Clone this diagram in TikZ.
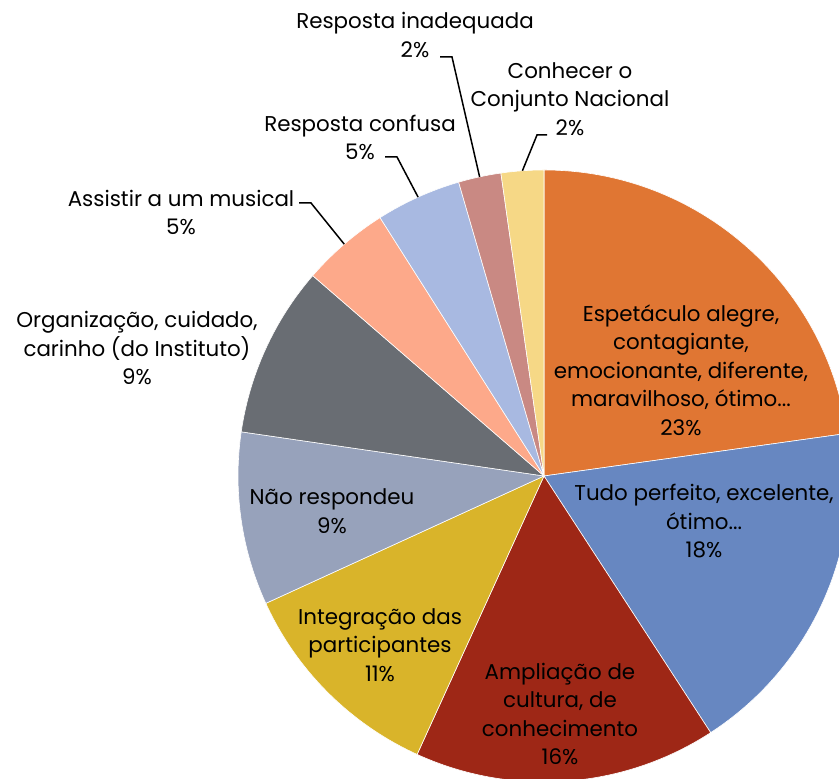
\documentclass[tikz,border=0pt]{standalone}
\usepackage{fontspec}
\setmainfont{Poppins}
\usetikzlibrary{calc}

\definecolor{cEsp}{HTML}{E07633}
\definecolor{cTudo}{HTML}{6787C1}
\definecolor{cAmpl}{HTML}{9E2716}
\definecolor{cInteg}{HTML}{D9B42A}
\definecolor{cNao}{HTML}{97A2BB}
\definecolor{cOrg}{HTML}{696D73}
\definecolor{cAssist}{HTML}{FDA98A}
\definecolor{cConf}{HTML}{A8B9E1}
\definecolor{cInad}{HTML}{C98983}
\definecolor{cConh}{HTML}{F6D886}

\tikzset{
  fatia/.style={draw=white,line width=0.3pt},
  rotulo/.style={align=center,inner sep=0pt,text=black,font=\fontsize{10.7}{14.25}\selectfont},
  guia/.style={draw=black,line width=0.75pt},
}

\begin{document}
\begin{tikzpicture}[x=0.5pt,y=0.5pt]
\useasboundingbox (0,0) rectangle (839,779);
\clip (0,0) rectangle (839,779);
\pgfmathsetmacro{\raio}{306}
\coordinate (C) at (544,303);
%
\foreach \ini/\fim/\cor in {90/8/cEsp,8/-57/cTudo,-57/-114.5/cAmpl,-114.5/-155.4/cInteg,-155.4/-188.3/cNao,-188.3/-220.9/cOrg,-220.9/-237.6/cAssist,-237.6/-253.8/cConf,-253.8/-261.9/cInad,-261.9/-270/cConh}
  \path[fatia,fill=\cor](C)--++(\ini:\raio)arc(\ini:\fim:\raio)--cycle;
%
\node[rotulo](lEsp) at (681,409){Espetáculo alegre,\\contagiante,\\emocionante, diferente,\\maravilhoso, ótimo...\\23\%};
\node[rotulo](lTudo) at (704,257.5){Tudo perfeito, excelente,\\ótimo...\\18\%};
\node[rotulo](lAmpl) at (560,65){Ampliação de\\cultura, de\\conhecimento\\16\%};
\node[rotulo](lInteg) at (380,134){Integração das\\participantes\\11\%};
\node[rotulo](lNao) at (332,268){Não respondeu\\9\%};
\node[rotulo](lOrg) at (137,431){Organização, cuidado,\\carinho (do Instituto)\\9\%};
\node[rotulo](lAssist) at (181,566.5){Assistir a um musical\\5\%};
\node[rotulo](lConf) at (360,641.5){Resposta confusa\\5\%};
\node[rotulo](lInad) at (415,744){Resposta inadequada\\2\%};
\node[rotulo](lConh) at (570,680){Conhecer o\\Conjunto Nacional\\2\%};
%
\coordinate (gAssist) at (299,576);
\coordinate (gConf) at (385,622);
\coordinate (gInad) at (440,722);
\coordinate (gConh) at (547,644);
\coordinate (bAssist) at ($(C)+(130.75:\raio)$);
\draw[guia](gAssist)--++(12,0)--(bAssist);
\draw[guia](gConf)--++(12,0)--($(C)+(114.3:\raio)$)coordinate(bConf);
\draw[guia](gInad)--++(12,0)--($(C)+(102.15:\raio)$)coordinate(bInad);
\draw[guia](gConh)--++(-10,0)--($(C)+(94.05:\raio)$)coordinate(bConh);
\end{tikzpicture}
\end{document}
